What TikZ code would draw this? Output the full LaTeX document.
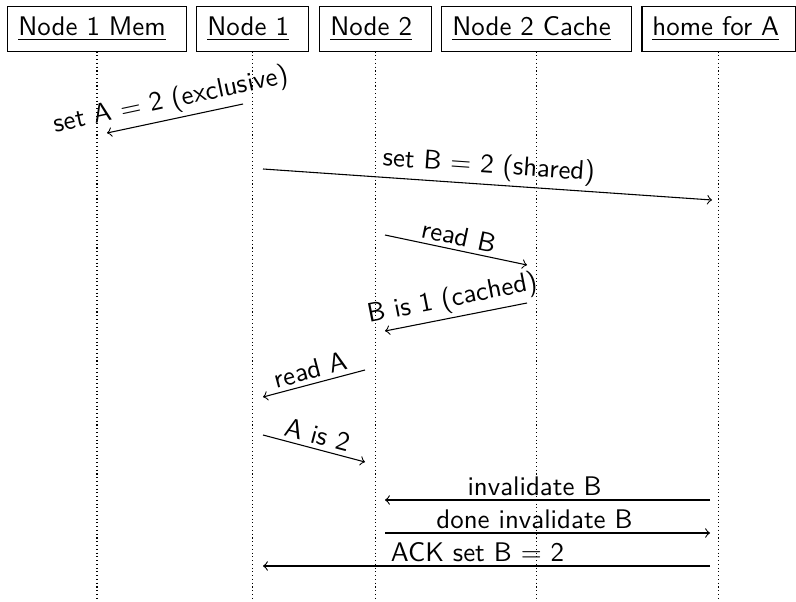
\documentclass[tikz,border=0pt]{standalone}
\begin{document}
\begin{tikzpicture}[x=0.3717pt, y=-0.3717pt, font=\sffamily,
  actor/.style={draw, align=left, inner xsep=3.9pt, inner ysep=2pt,
    minimum height=16.4pt, anchor=center},
  lifeline/.style={densely dotted},
  msg/.style={->},
  lbl/.style={sloped, above, inner sep=1.5pt}]
\useasboundingbox (0,0) rectangle (796,601);

% participants
\node[actor, text width=58.4pt] (mem)   at (97,29)    {\underline{Node 1 Mem}};
\node[actor, text width=33.5pt] (n1)    at (252.5,29) {\underline{Node 1}};
\node[actor, text width=33.5pt] (n2)    at (375.5,29) {\underline{Node 2}};
\node[actor, text width=62.5pt] (cache) at (536.5,29) {\underline{Node 2 Cache}};
\node[actor, text width=49.1pt] (home)  at (718.5,29) {\underline{home for A}};

% lifelines
\foreach \p in {mem,n1,n2,cache,home}
  \draw[lifeline] (\p.south) -- (\p.south |- 0,601);

% message end points
\coordinate (m1s) at (243,104);  \coordinate (m1e) at (107,133);
\coordinate (m2s) at (263,169);  \coordinate (m2e) at (712,200);
\coordinate (m3s) at (385,235);  \coordinate (m3e) at (527,265);
\coordinate (m4s) at (527,303);  \coordinate (m4e) at (385,331);
\coordinate (m5s) at (365,370);  \coordinate (m5e) at (263,397);
\coordinate (m6s) at (263,435);  \coordinate (m6e) at (365,462);
\coordinate (m7s) at (710,500);  \coordinate (m7e) at (385,500);
\coordinate (m8s) at (385,533);  \coordinate (m8e) at (710,533);
\coordinate (m9s) at (710,566);  \coordinate (m9e) at (263,566);

% messages
\draw[msg] (m1s) -- node[lbl] {set A $=$ 2 (exclusive)} (m1e);
\draw[msg] (m2s) -- node[lbl] {set B $=$ 2 (shared)} (m2e);
\draw[msg] (m3s) -- node[lbl] {read B} (m3e);
\draw[msg] (m4s) -- node[lbl] {B is 1 (cached)} (m4e);
\draw[msg] (m5s) -- node[lbl] {read A} (m5e);
\draw[msg] (m6s) -- node[lbl] {A is 2} (m6e);
\draw[msg] (m7s) -- node[lbl, pos=0.54] {invalidate B} (m7e);
\draw[msg] (m8s) -- node[lbl, pos=0.46] {done invalidate B} (m8e);
\draw[msg] (m9s) -- node[lbl, pos=0.52] {ACK set B $=$ 2} (m9e);
\end{tikzpicture}
\end{document}
